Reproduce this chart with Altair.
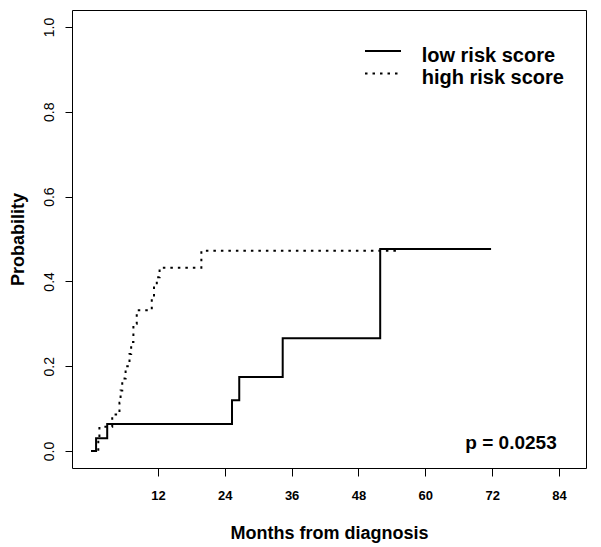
import altair as alt
import pandas as pd

# Kaplan-Meier style cumulative probability curves
low_months = [0, 0.9, 2.9, 25.3, 26.6, 34.4, 51.9, 71.8]
low_prob = [0, 0.03, 0.0637, 0.1196, 0.1746, 0.266, 0.4766, 0.4766]

high_months = [0, 1.3, 1.5, 3.8, 5.1, 5.3, 5.6, 6.2, 6.9, 7.2, 7.6, 8.2, 10.9, 11.3, 11.8, 12.3, 19.8, 54.9]
high_prob = [0, 0.029, 0.057, 0.086, 0.114, 0.143, 0.171, 0.20, 0.229, 0.257, 0.30, 0.332, 0.36, 0.39, 0.41, 0.432, 0.472, 0.472]

x_ticks = [12, 24, 36, 48, 60, 72, 84]
y_ticks = [0.0, 0.2, 0.4, 0.6, 0.8, 1.0]
legend_labels = ["low risk score", "high risk score"]
p_label = "p = 0.0253"
x_title = "Months from diagnosis"
y_title = "Probability"

FONT = "Liberation Sans"
W, H = 514, 458

xs = alt.Scale(domain=[-3.42, 88.84], nice=False, zero=False)
ys = alt.Scale(domain=[-0.04, 1.04], nice=False, zero=False)

low_df = pd.DataFrame({"month": low_months, "prob": low_prob})
high_df = pd.DataFrame({"month": high_months, "prob": high_prob})
one = pd.DataFrame({"k": [0]})

x_axis = alt.Axis(values=x_ticks, title=x_title, domain=False, grid=False,
                  tickSize=8, tickColor="black", labelPadding=13,
                  labelFont=FONT, labelFontSize=13, labelFontWeight="bold", labelColor="black",
                  titleFont=FONT, titleFontSize=18, titleFontWeight="bold", titleColor="black",
                  titleX=W / 2, titleY=70, titleBaseline="alphabetic", titleAlign="center")
y_axis = alt.Axis(values=y_ticks, format=".1f", title=y_title, domain=False, grid=False,
                  tickSize=7, tickColor="black", labelAngle=-90, labelAlign="center",
                  labelBaseline="alphabetic", labelPadding=12,
                  labelFont=FONT, labelFontSize=14, labelFontWeight="normal", labelColor="black",
                  titleFont=FONT, titleFontSize=18, titleFontWeight="bold", titleColor="black",
                  titleAngle=-90, titleX=-49, titleY=H / 2, titleBaseline="alphabetic", titleAlign="center")

low = alt.Chart(low_df).mark_line(interpolate="step-after", color="black", strokeWidth=2).encode(
    x=alt.X("month:Q", scale=xs, axis=x_axis),
    y=alt.Y("prob:Q", scale=ys, axis=y_axis),
)
high = alt.Chart(high_df).mark_line(interpolate="step-after", color="black", strokeWidth=2,
                                    strokeDash=[2.5, 5], strokeCap="butt").encode(
    x=alt.X("month:Q", scale=xs),
    y=alt.Y("prob:Q", scale=ys),
)

leg_solid = alt.Chart(one).mark_rule(color="black", strokeWidth=2).encode(
    x=alt.value(293), x2=alt.value(329), y=alt.value(41))
leg_dot = alt.Chart(one).mark_rule(color="black", strokeWidth=2, strokeDash=[2.5, 5], strokeCap="butt").encode(
    x=alt.value(293), x2=alt.value(329), y=alt.value(63.5))
leg_t1 = alt.Chart(one).mark_text(align="left", baseline="alphabetic", font=FONT, fontSize=20,
                                  fontWeight="bold", color="black").encode(
    x=alt.value(349.7), y=alt.value(51.5), text=alt.value(legend_labels[0]))
leg_t2 = alt.Chart(one).mark_text(align="left", baseline="alphabetic", font=FONT, fontSize=20,
                                  fontWeight="bold", color="black").encode(
    x=alt.value(349.7), y=alt.value(73.5), text=alt.value(legend_labels[1]))
p_text = alt.Chart(one).mark_text(align="right", baseline="alphabetic", font=FONT, fontSize=19,
                                  fontWeight="bold", color="black").encode(
    x=alt.value(484.7), y=alt.value(438.5), text=alt.value(p_label))

chart = alt.layer(low, high, leg_solid, leg_dot, leg_t1, leg_t2, p_text).properties(
    width=W, height=H,
    autosize=alt.AutoSizeParams(type="none"),
    padding={"left": 64, "top": 2, "right": 7, "bottom": 80},
    background="white",
).configure_view(stroke="black", strokeWidth=1)

chart.save("out.html", embed_options={"renderer": "svg", "actions": False})
